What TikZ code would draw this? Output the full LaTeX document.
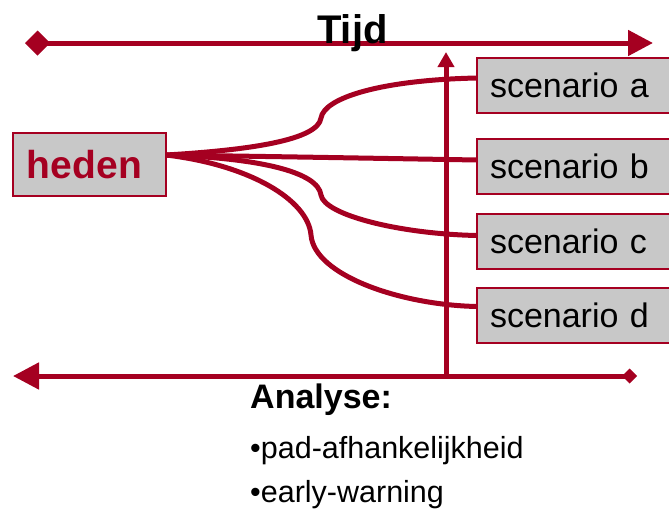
\documentclass[tikz,border=0pt]{standalone}
\usepackage{fontspec}
\setmainfont{Liberation Sans}
\usetikzlibrary{arrows.meta}
\definecolor{dred}{RGB}{165,0,33}
\definecolor{boxgray}{RGB}{200,200,200}
\begin{document}
\begin{tikzpicture}[x=1pt,y=-1pt,
  axis/.style={draw=dred, line width=5pt},
  branch/.style={draw=dred, line width=5pt},
  scen/.style={draw=dred, line width=1.2pt, fill=boxgray, anchor=north west, outer sep=0pt,
    minimum height=55pt, text width=190pt, inner xsep=13pt, inner ysep=0pt, align=left,
    font=\fontsize{34}{40}\selectfont},
  nowbox/.style={draw=dred, line width=1.2pt, fill=boxgray, anchor=north west, outer sep=0pt,
    minimum height=63pt, text width=125pt, inner xsep=14pt, inner ysep=0pt, align=left,
    text=dred, font=\bfseries\fontsize{39}{46}\selectfont},
  label/.style={anchor=base west, inner sep=0pt},
]
\clip (0,0) rectangle (669,514);
% boxes
\node[nowbox] (heden) at (13,133) {heden};
\node[scen] (sa) at (477,58) {scenario a};
\node[scen] (sb) at (477,139) {scenario b};
\node[scen] (sc) at (477,214) {scenario c};
\node[scen] (sd) at (477,288) {scenario d};
% axes
\coordinate (tl) at (25,43);
\coordinate (tr) at (653,43);
\coordinate (bl) at (13,376);
\coordinate (br) at (637,376);
\coordinate (vb) at (446,376);
\coordinate (vt) at (446,52);
\draw[axis, {Turned Square[length=25pt,width=25pt]}-{Triangle[length=25pt,width=25pt]}] (tl) -- (tr);
\draw[axis, {Triangle[length=26pt,width=26pt]}-{Turned Square[length=15pt,width=15pt]}] (bl) -- (br);
\draw[axis, -{Triangle[length=15pt,width=16pt]}] (vb) -- (vt);
% branches
\coordinate (h) at ([yshift=9.5pt]heden.east);
\coordinate (ka) at (321,118);
\coordinate (kc) at (321,195);
\coordinate (kd) at (311,235);
\draw[branch] (h) .. controls (250,150) and (318,140) .. (ka)
  .. controls (324,98) and (380,80) .. ([yshift=7.5pt]sa.west);
\draw[branch] (h) .. controls (300,157) .. ([yshift=6.5pt]sb.west);
\draw[branch] (h) .. controls (260,158) and (318,172) .. (kc)
  .. controls (324,215) and (400,234) .. ([yshift=6pt]sc.west);
\draw[branch] (h) .. controls (250,165) and (308,200) .. (kd)
  .. controls (314,275) and (400,305) .. ([yshift=9pt]sd.west);
% texts
\node[label, font=\bfseries\fontsize{40}{48}\selectfont] (tijd) at (317,43) {Tijd};
\node[label, font=\bfseries\fontsize{34}{40}\selectfont] (an) at (250,408) {Analyse:};
\node[label, font=\fontsize{30.5}{36}\selectfont] (i1) at (250,458) {•pad-afhankelijkheid};
\node[label, font=\fontsize{30.5}{36}\selectfont] (i2) at (250,502) {•early-warning};
\end{tikzpicture}
\end{document}
